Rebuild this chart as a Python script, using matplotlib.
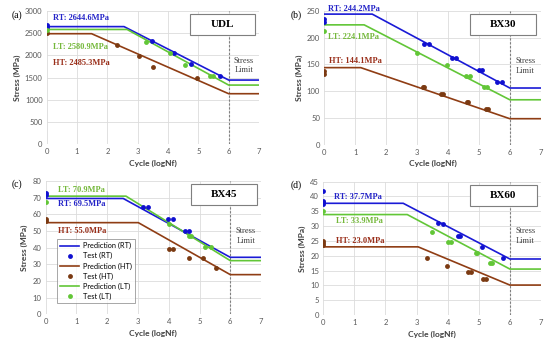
import matplotlib
matplotlib.use("Agg")
import matplotlib.pyplot as plt
from matplotlib.patches import Rectangle

# ---- data ----
panels = ["(a)", "(b)", "(c)", "(d)"]
names = ["UDL", "BX30", "BX45", "BX60"]

# prediction lines: x knots / y knots
pred_x_udl = {"RT": [0, 2.55, 6, 7], "LT": [0, 2.65, 6, 7], "HT": [0, 1.48, 6, 7]}
pred_y_udl = {"RT": [2644.6, 2644.6, 1444, 1444], "LT": [2580.9, 2580.9, 1331, 1331],
              "HT": [2485.3, 2485.3, 1137, 1137]}
pred_x_bx30 = {"RT": [0, 1.55, 6, 7], "LT": [0, 1.29, 6, 7], "HT": [0, 1.18, 6, 7]}
pred_y_bx30 = {"RT": [244.2, 244.2, 106, 106], "LT": [224.1, 224.1, 84, 84],
               "HT": [144.1, 144.1, 48.6, 48.6]}
pred_x_bx45 = {"RT": [0, 2.52, 6, 7], "LT": [0, 2.61, 6, 7], "HT": [0, 3.01, 6, 7]}
pred_y_bx45 = {"RT": [69.5, 69.5, 34.2, 34.2], "LT": [70.9, 70.9, 32.2, 32.2],
               "HT": [55.0, 55.0, 23.8, 23.8]}
pred_x_bx60 = {"RT": [0, 2.57, 6, 7], "LT": [0, 2.70, 6, 7], "HT": [0, 3.05, 6, 7]}
pred_y_bx60 = {"RT": [37.7, 37.7, 18.9, 18.9], "LT": [33.9, 33.9, 15.5, 15.5],
               "HT": [23.0, 23.0, 10.1, 10.1]}

# test points
test_udl = {
    "RT": ([0, 0, 3.48, 4.19, 4.77, 5.71], [2678, 2625, 2311, 2057, 1810, 1533]),
    "HT": ([0, 2.31, 3.05, 3.51, 4.96], [2490, 2229, 1982, 1743, 1488]),
    "LT": ([0, 3.29, 4.06, 4.56, 5.38, 5.48], [2565, 2304, 2057, 1788, 1533, 1533]),
}
test_bx30 = {
    "RT": ([0, 0, 3.21, 3.39, 4.12, 4.26, 5.02, 5.11, 5.58, 5.74],
           [235, 230, 188, 188, 163, 163, 140, 140, 117, 117]),
    "HT": ([0, 0, 3.18, 3.24, 3.76, 3.85, 4.6, 4.66, 5.22, 5.28],
           [138, 132, 107, 107, 94, 94, 80.5, 80.5, 67, 67]),
    "LT": ([0, 2.99, 3.97, 4.57, 4.71, 5.18, 5.25],
           [213, 171, 149, 128, 128, 107, 107]),
}
test_bx45 = {
    "RT": ([0, 0, 3.17, 3.34, 3.97, 4.13, 4.54, 4.66],
           [72.6, 71.6, 64.6, 64.6, 57.4, 57.4, 50.0, 50.0]),
    "HT": ([0, 0, 4.02, 4.15, 4.66, 5.1, 5.54],
           [57.2, 56.0, 39.2, 39.2, 33.6, 33.6, 27.8]),
    "LT": ([0, 4.01, 4.67, 4.72, 5.18, 5.36],
           [67.6, 54.2, 47.0, 47.0, 40.4, 40.4]),
}
test_bx60 = {
    "RT": ([0, 0, 0, 0, 3.70, 3.84, 4.32, 4.41, 5.09, 5.79],
           [41.8, 38.6, 38.0, 37.3, 30.9, 30.6, 26.8, 26.8, 23.1, 19.2]),
    "HT": ([0, 0, 0, 3.32, 3.98, 4.66, 4.75, 5.14, 5.23],
           [25.1, 24.4, 23.6, 19.2, 16.7, 14.4, 14.4, 12.2, 12.2]),
    "LT": ([0, 3.48, 4.0, 4.1, 4.9, 4.95, 5.36, 5.44],
           [35.2, 28.1, 24.6, 24.7, 21.0, 21.0, 17.7, 17.7]),
}

pred_x = [pred_x_udl, pred_x_bx30, pred_x_bx45, pred_x_bx60]
pred_y = [pred_y_udl, pred_y_bx30, pred_y_bx45, pred_y_bx60]
tests = [test_udl, test_bx30, test_bx45, test_bx60]

y_max = [3000, 250, 80, 45]
y_step = [500, 50, 10, 5]

# label text positions (x, y) per panel
label_pos = [
    {"RT": (0.22, 2827), "LT": (0.22, 2191), "HT": (0.22, 1817)},
    {"RT": (0.13, 253.5), "LT": (0.13, 202), "HT": (0.15, 156.5)},
    {"RT": (0.41, 66), "LT": (0.41, 74.6), "HT": (0.41, 50.2)},
    {"RT": (0.35, 39.9), "LT": (0.41, 31.7), "HT": (0.41, 25.1)},
]

line_col = {"RT": "#1a1ad6", "LT": "#62c637", "HT": "#8f3d14"}
dot_col = {"RT": "#1010d0", "LT": "#62c637", "HT": "#7b3a12"}
text_col = {"RT": "#2424c8", "LT": "#74b83a", "HT": "#9a2f1a"}

positions = [
    [0.0849, 0.5817, 0.386, 0.387],
    [0.5896, 0.5806, 0.3935, 0.3875],
    [0.0831, 0.089, 0.3915, 0.3864],
    [0.5878, 0.087, 0.3958, 0.3864],
]
panel_lab_xy = [(12, 15), (291, 15), (12, 184), (291, 185)]

serif = "Liberation Serif"
sans = "Lato"

fig = plt.figure(figsize=(5.5, 3.45), dpi=100)

for i in range(4):
    ax = fig.add_axes(positions[i])
    order = ["RT", "HT", "LT"]
    for k in order:
        ax.plot(pred_x[i][k], pred_y[i][k], color=line_col[k], lw=1.2,
                label="Prediction (%s)" % k, zorder=3)
        tx, ty = tests[i][k]
        ax.plot(tx, ty, "o", color=dot_col[k], ms=3.5, mec="none",
                label="Test (%s)" % k, zorder=4)
    for k, (lx, ly) in label_pos[i].items():
        val = pred_y[i][k][0]
        ax.text(lx, ly, "%s: %.1fMPa" % (k, val), color=text_col[k], fontsize=6,
                fontweight="bold", family=serif, va="center", ha="left", zorder=5)

    ax.axvline(6, color="#7f7f7f", ls=(0, (2, 1.5)), lw=0.8, zorder=2)
    ax.text(6.5, y_max[i] * 0.59, "Stress\nLimit", fontsize=6, family=serif,
            color="#404040", ha="center", va="center", linespacing=1.3)

    ax.add_patch(Rectangle((0.675, 0.82), 0.305, 0.155, transform=ax.transAxes,
                           facecolor="white", edgecolor="#7f7f7f", lw=0.8, zorder=6))
    ax.text(0.8275, 0.8975, names[i], transform=ax.transAxes, fontsize=8,
            fontweight="bold", family=serif, ha="center", va="center", zorder=7)

    ax.set_xlim(0, 7)
    ax.set_ylim(0, y_max[i])
    ax.set_xticks(range(0, 8))
    ax.set_yticks(range(0, y_max[i] + 1, y_step[i]))
    ax.grid(True, color="#dcdcdc", lw=0.6)
    ax.set_axisbelow(True)
    for s in ax.spines.values():
        s.set_visible(False)
    ax.tick_params(length=0, labelsize=5.5, labelcolor="#595959", pad=3)
    for t in ax.get_xticklabels() + ax.get_yticklabels():
        t.set_family(sans)
    ax.set_xlabel("Cycle (logNf)", fontsize=6, fontweight="bold", family=sans,
                  color="#404040", labelpad=3)
    ax.set_ylabel("Stress (MPa)", fontsize=6, fontweight="bold", family=sans,
                  color="#404040", labelpad=3)

    px, py = panel_lab_xy[i]
    fig.text(px / 550, 1 - py / 345, panels[i], fontsize=7, family=serif,
             ha="left", va="center")

    if i == 2:
        h, l = ax.get_legend_handles_labels()
        leg = ax.legend(h, l, loc="lower left", bbox_to_anchor=(0.034, 0.055),
                        frameon=True, fancybox=False, edgecolor="#7f7f7f",
                        handlelength=2.6, handletextpad=0.5, borderpad=0.45,
                        labelspacing=0.4, prop={"family": sans, "size": 5.3})
        leg.get_frame().set_linewidth(0.6)
        leg.set_zorder(8)

fig.savefig("out.png", dpi=100)
